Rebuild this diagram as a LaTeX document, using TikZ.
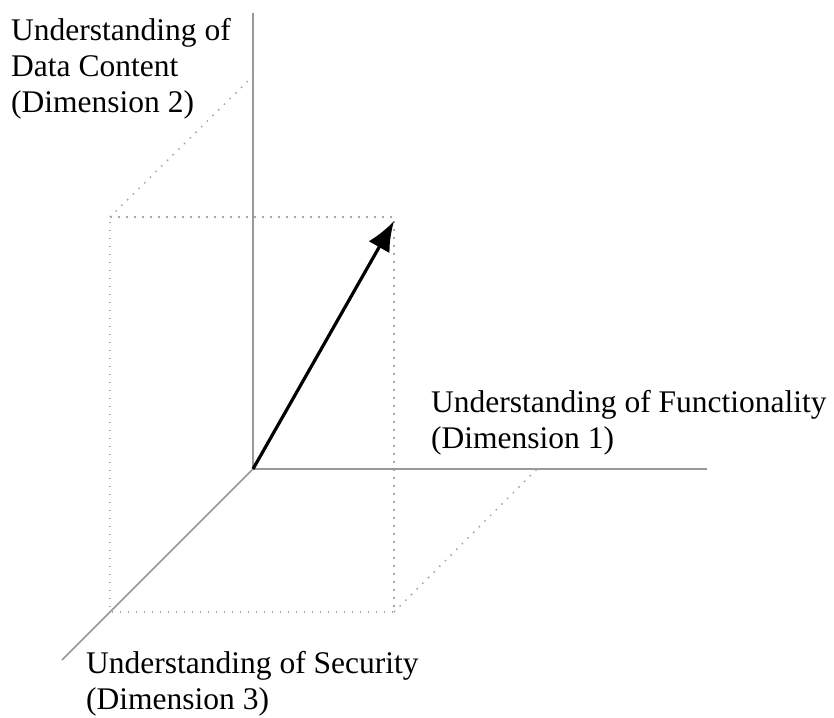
\documentclass[tikz,border=0pt]{standalone}
\usepackage{fontspec}
\setmainfont{Liberation Serif}
\usetikzlibrary{arrows.meta}
\begin{document}
\begin{tikzpicture}[x=1pt,y=-1pt,
  axisline/.style={draw=black!40, line width=1.7pt},
  guide/.style={draw=black!35, line width=1.5pt, dash pattern=on 1.5pt off 6.5pt},
  vec/.style={draw=black, line width=3.2pt, -{Latex[length=30pt,width=24pt]}},
  lbl/.style={anchor=north west, inner sep=0pt, align=left, font=\fontsize{31.5}{36}\selectfont}]
\useasboundingbox (0,0) rectangle (834,717);
% axis points
\coordinate (O) at (253,469);
\coordinate (Ytop) at (253,13);
\coordinate (Xend) at (707,469);
\coordinate (Zend) at (62,660);
% cube guide points
\coordinate (FTL) at (110,217);
\coordinate (FTR) at (394,217);
\coordinate (FBL) at (110,612);
\coordinate (FBR) at (394,612);
\coordinate (Ybk) at (253,76);
\coordinate (Xbk) at (537,469);
\coordinate (Tip) at (394,221);
% guides
\draw[guide] (FTL) -- (FTR) -- (FBR) -- (FBL) -- cycle;
\draw[guide] (FTL) -- (Ybk);
\draw[guide] (FBR) -- (Xbk);
% axes
\draw[axisline] (O) -- (Ytop);
\draw[axisline] (O) -- (Xend);
\draw[axisline] (O) -- (Zend);
% vector
\draw[vec] (O) -- (Tip);
% labels
\node[lbl] (L2) at (11,18) {Understanding of\\Data Content\\(Dimension 2)};
\node[lbl] (L1) at (431,390) {Understanding of Functionality\\(Dimension 1)};
\node[lbl] (L3) at (86,651) {Understanding of Security\\(Dimension 3)};
\end{tikzpicture}
\end{document}
